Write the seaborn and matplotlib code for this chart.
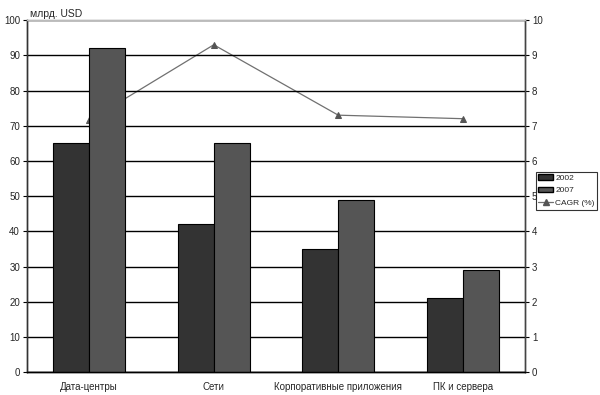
import matplotlib
matplotlib.use('Agg')
import matplotlib.pyplot as plt
import numpy as np
import seaborn as sns
import pandas as pd
from matplotlib.patches import Patch
from matplotlib.lines import Line2D

# данные с картинки
cats = ["Дата-центры", "Сети", "Корпоративные приложения", "ПК и сервера"]
years = ["2002", "2007"]
v2002 = [65, 42, 35, 21]
v2007 = [92, 65, 49, 29]
cagr = [7.15, 9.3, 7.3, 7.2]

Data = pd.DataFrame({
    'cat': cats * 2,
    'year': [years[0]] * 4 + [years[1]] * 4,
    'val': v2002 + v2007,
})

sns.set_style('white')
plt.rcParams['font.family'] = ['Liberation Sans', 'DejaVu Sans']

fig = plt.figure(figsize=(6, 3.95), dpi=100)
ax = fig.add_axes([0.045, 0.058, 0.83, 0.891])
ax2 = ax.twinx()

sns.barplot(data=Data, x='cat', y='val', hue='year', order=cats,
            palette=['#333333', '#555555'], edgecolor='black', linewidth=0.8,
            width=0.58, gap=0, saturation=1, ax=ax, legend=False)

sns.lineplot(x=np.arange(4), y=cagr, ax=ax2, color='#707070', lw=0.9,
             marker='^', markersize=5, markerfacecolor='#555555',
             markeredgecolor='#555555')

# линия за столбиками
ax.set_zorder(2)
ax.patch.set_visible(False)
ax2.set_zorder(1)
ax2.patch.set_facecolor('#fafafa')

ax.set_ylim(0, 100)
ax2.set_ylim(0, 10)
ax.set_xlim(-0.5, 3.5)
ax.set_yticks(range(0, 101, 10))
ax2.set_yticks(range(0, 11, 1))
ax.yaxis.grid(True, color='black', lw=1)
ax.set_axisbelow(True)
ax.set(xlabel='', ylabel='')
ax2.set(xlabel='', ylabel='')

ax.set_xticks(range(4))
ax.set_xticklabels(cats, fontsize=7)
ax.set_xticks(np.arange(-0.5, 4, 1), minor=True)
ax.tick_params(axis='x', which='major', length=0, pad=7)
ax.tick_params(axis='x', which='minor', length=4, direction='out', color='black')
ax.tick_params(axis='y', length=3, direction='out', labelsize=7, pad=2, color='black')
ax2.tick_params(axis='y', length=3, direction='out', labelsize=7, pad=2, color='black')

for a in (ax, ax2):
    a.spines['top'].set_color('#bbbbbb')
    a.spines['left'].set_color('#333333')
    a.spines['right'].set_color('#444444')
    a.spines['bottom'].set_color('black')
    for s in a.spines.values():
        s.set_linewidth(1)

fig.text(0.05, 0.965, 'млрд. USD', fontsize=7.5, va='center')

handles = [Patch(facecolor='#333333', edgecolor='black'),
           Patch(facecolor='#555555', edgecolor='black'),
           Line2D([0], [0], color='#707070', lw=0.9, marker='^', markersize=4,
                  markerfacecolor='#555555', markeredgecolor='#555555')]
leg = fig.legend(handles, ['2002', '2007', 'CAGR (%)'], loc='upper left',
                 bbox_to_anchor=(0.893, 0.565), fontsize=6, frameon=True,
                 fancybox=False, edgecolor='black', borderpad=0.3,
                 handlelength=1.8, handleheight=0.6, handletextpad=0.25,
                 labelspacing=0.6, borderaxespad=0)
leg.get_frame().set_linewidth(0.8)

fig.savefig('out.png', dpi=100, facecolor='white')
